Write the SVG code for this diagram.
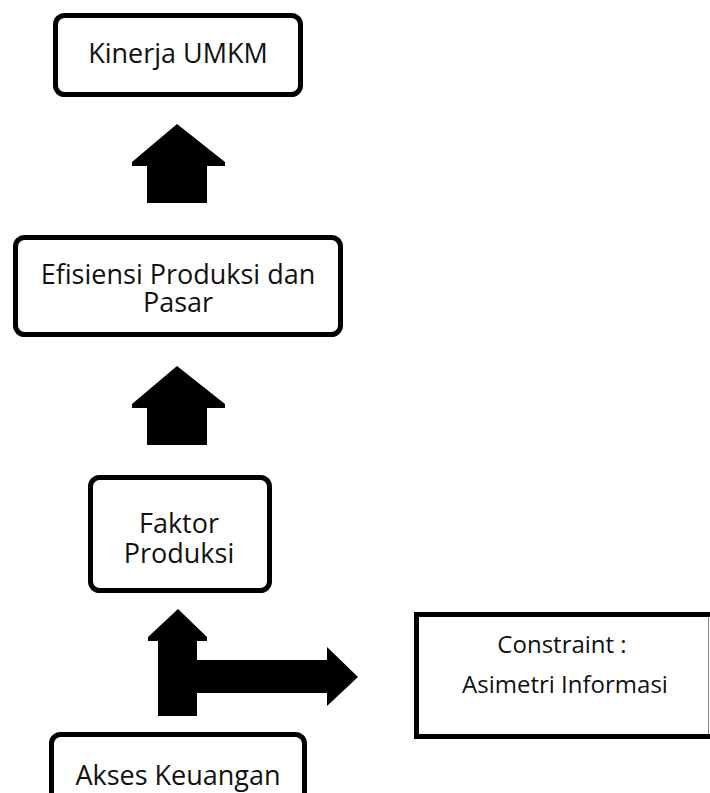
<svg xmlns="http://www.w3.org/2000/svg" width="710" height="793" viewBox="0 0 710 793">
  <style>
    .box { fill: #ffffff; stroke: #000000; stroke-width: 5; }
    .lbl { font-family: "Open Sans", "Liberation Sans", sans-serif; font-size: 27px; fill: #111111; text-anchor: middle; }
    .lbl2 { font-family: "Open Sans", "Liberation Sans", sans-serif; font-size: 24px; fill: #111111; text-anchor: middle; }
    .arrow { fill: #000000; stroke: none; }
  </style>
  <rect width="710" height="793" fill="#ffffff"/>
  <g id="connectors">
    <polygon class="arrow" points="177,124 225,162 225,166 207,166 207,203 147,203 147,166 132,166 132,162"/>
    <polygon class="arrow" points="177,366 225,404 225,408 207,408 207,445 147,445 147,408 132,408 132,404"/>
    <polygon class="arrow" points="178,609 207,637 207,641 197,641 197,660 327,660 327,647 358,677 327,706 327,693 197,693 197,716 158,716 158,641 148,641 148,637"/>
  </g>
  <g id="kinerja">
    <rect class="box" x="55.5" y="15.5" width="245" height="79" rx="9"/>
    <text class="lbl" x="178" y="63">Kinerja UMKM</text>
  </g>
  <g id="efisiensi">
    <rect class="box" x="15.5" y="237.5" width="325" height="97" rx="9"/>
    <text class="lbl" x="178" y="284">Efisiensi Produksi dan</text>
    <text class="lbl" x="178" y="312">Pasar</text>
  </g>
  <g id="faktor">
    <rect class="box" x="90.5" y="477.5" width="179" height="113" rx="9"/>
    <text class="lbl" x="179" y="533">Faktor</text>
    <text class="lbl" x="179" y="563">Produksi</text>
  </g>
  <g id="constraint">
    <rect class="box" x="416.5" y="614.5" width="310" height="122"/>
    <line x1="708.5" y1="617" x2="708.5" y2="734" stroke="#888888" stroke-width="1"/>
    <text class="lbl2" x="562" y="653">Constraint :</text>
    <text class="lbl2" x="565" y="693">Asimetri Informasi</text>
  </g>
  <g id="akses">
    <rect class="box" x="51.5" y="734.5" width="253" height="80" rx="9"/>
    <text class="lbl" x="178" y="785">Akses Keuangan</text>
  </g>
</svg>
